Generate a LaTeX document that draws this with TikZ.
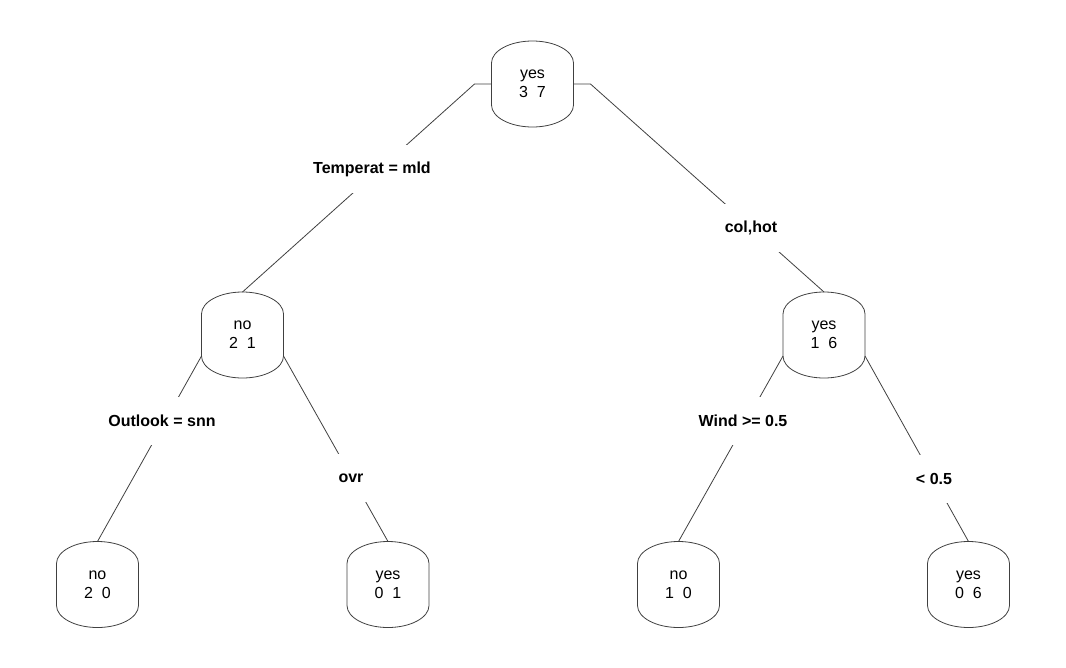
\documentclass[tikz,border=0pt]{standalone}
\usepackage{fontspec}
\setmainfont{Liberation Sans}
\usepackage{tikz}
\usetikzlibrary{calc}

\begin{document}
\begin{tikzpicture}[x = 1pt, y = -1pt, line width = 0.8pt,
		split/.style = {black!75},
		leaf/.style = {minimum width = 82pt, minimum height = 86pt, inner sep = 0pt, outer sep = 0pt, align = center, font = {\fontsize{16}{19}\selectfont}},
		rule/.style = {fill = white, minimum height = 48pt, inner xsep = 4pt, font = {\fontsize{16}{19}\selectfont\bfseries}}]

			\useasboundingbox (0,0) rectangle (1066,667);

			% tree nodes
			\node [leaf] (root) at (532.5,84) {yes\\3~~7};
			\node [leaf] (mld) at (242.5,335) {no\\2~~1};
			\node [leaf] (hot) at (824,335) {yes\\1~~6};
			\node [leaf] (snn) at (97.5,584.5) {no\\2~~0};
			\node [leaf] (ovr) at (388,584.5) {yes\\0~~1};
			\node [leaf] (wnd) at (678.5,584.5) {no\\1~~0};
			\node [leaf] (lss) at (968.5,584.5) {yes\\0~~6};

			\foreach \n in {root, mld, hot, snn, ovr, wnd, lss}
			{
				\draw [split] ($(\n.center)+(-41,-21)$) -- ++(0,42)
					arc [start angle = 180, end angle = 0, x radius = 41, y radius = 22]
					-- ++(0,-42)
					arc [start angle = 0, end angle = -180, x radius = 41, y radius = 22] -- cycle;
			}

			% branches
			\draw [split] (root.west) -- ++(-17,0) -- (mld.north);
			\draw [split] (root.east) -- ++(17,0) -- (hot.north);
			\draw [split] ($(mld.west)+(0,21)$) -- (snn.north);
			\draw [split] ($(mld.east)+(0,21)$) -- (ovr.north);
			\draw [split] ($(hot.west)+(0,21)$) -- (wnd.north);
			\draw [split] ($(hot.east)+(0,21)$) -- (lss.north);

			% split labels
			\node [rule] (tmpmld) at (372,169) {Temperat = mld};
			\node [rule] (colhot) at (751,228) {col,hot};
			\node [rule] (outsnn) at (162,421) {Outlook = snn};
			\node [rule] (outovr) at (351,478) {ovr};
			\node [rule] (windge) at (743,421) {Wind >= 0.5};
			\node [rule] (windlt) at (934,479) {< 0.5};
		\end{tikzpicture}
\end{document}
